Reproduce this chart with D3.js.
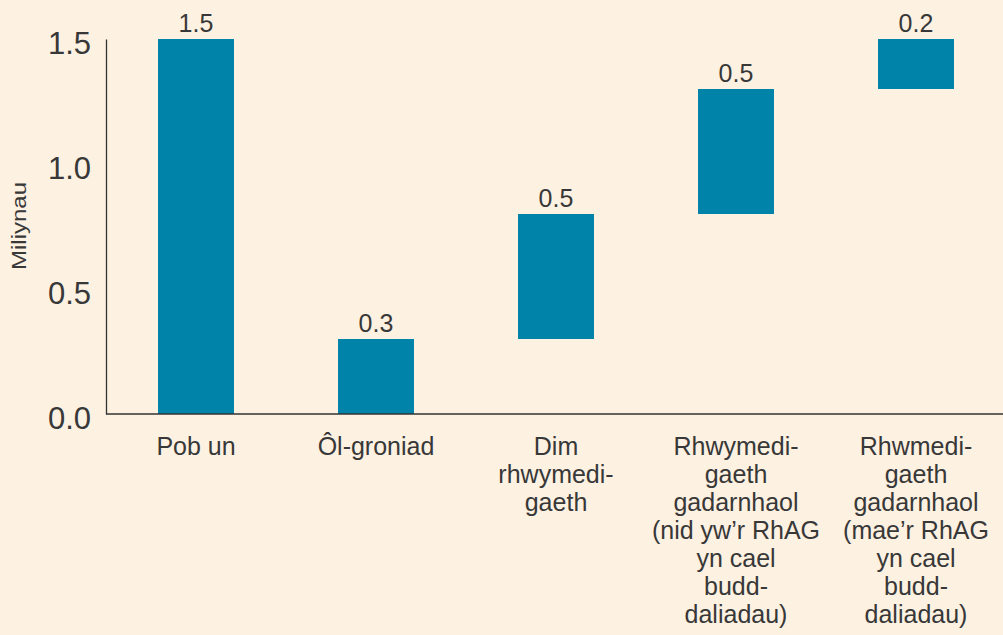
<!DOCTYPE html>
<html>
<head>
<meta charset="utf-8">
<script src="https://cdn.jsdelivr.net/npm/d3@7"></script>
<style>
  html, body { margin: 0; padding: 0; background: #fdf1e2; }
  svg { display: block; }
  text { font-family: "Liberation Sans", Arial, Helvetica, sans-serif; fill: #383838; }
</style>
</head>
<body>
<div id="chart"></div>
<script>
// data (millions)
var categories = ["Pob un", "Ôl-groniad", "Dim rhwymedi-gaeth", "Rhwymedi-gaeth gadarnhaol (nid)", "Rhwmedi-gaeth gadarnhaol (mae)"];
var categoryLines = [
  ["Pob un"],
  ["Ôl-groniad"],
  ["Dim", "rhwymedi-", "gaeth"],
  ["Rhwymedi-", "gaeth", "gadarnhaol", "(nid yw’r RhAG", "yn cael", "budd-", "daliadau)"],
  ["Rhwmedi-", "gaeth", "gadarnhaol", "(mae’r RhAG", "yn cael", "budd-", "daliadau)"]
];
var barStart = [0, 0, 0.3, 0.8, 1.3];
var barEnd = [1.5, 0.3, 0.8, 1.3, 1.5];
var valueLabels = ["1.5", "0.3", "0.5", "0.5", "0.2"];
var yTicks = [0, 0.5, 1.0, 1.5];

var width = 1003, height = 635;
var barColor = "#0083a9";

var svg = d3.select("#chart").append("svg")
  .attr("width", width)
  .attr("height", height);

var x = d3.scaleBand()
  .domain(categories)
  .range([106, 1006])
  .paddingInner(0.578)
  .paddingOuter(0.289);

var y = d3.scaleLinear()
  .domain([0, 1.5])
  .range([414, 39]);

var data = categories.map(function(c, i) {
  return {cat: c, lines: categoryLines[i], start: barStart[i], end: barEnd[i], label: valueLabels[i]};
});

// bars
svg.append("g")
  .selectAll("rect")
  .data(data)
  .join("rect")
  .attr("x", d => x(d.cat))
  .attr("width", x.bandwidth())
  .attr("y", d => y(d.end))
  .attr("height", d => y(d.start) - y(d.end))
  .attr("fill", barColor);

// value labels
svg.append("g")
  .selectAll("text")
  .data(data)
  .join("text")
  .attr("x", d => x(d.cat) + x.bandwidth() / 2)
  .attr("y", d => y(d.end) - 7)
  .attr("text-anchor", "middle")
  .style("font-size", "25px")
  .text(d => d.label);

// y axis
var yAxis = svg.append("g")
  .attr("transform", "translate(106,0)")
  .call(d3.axisLeft(y).tickValues(yTicks).tickFormat(d3.format(".1f")).tickSize(0).tickSizeOuter(0));
yAxis.select(".domain").attr("stroke", "#333").attr("stroke-width", 1.3);
yAxis.selectAll(".tick text")
  .attr("x", -15)
  .attr("dy", "0.46em")
  .style("font-size", "31px")
  .style("font-family", "\"Liberation Sans\", Arial, sans-serif")
  .attr("fill", "#383838");

// x axis line
svg.append("line")
  .attr("x1", 106).attr("x2", width)
  .attr("y1", y(0)).attr("y2", y(0))
  .attr("stroke", "#333")
  .attr("stroke-width", 1.3);

// category labels
var cat = svg.append("g")
  .selectAll("text")
  .data(data)
  .join("text")
  .attr("text-anchor", "middle")
  .style("font-size", "25px");
cat.selectAll("tspan")
  .data(d => d.lines.map(l => ({line: l, cx: x(d.cat) + x.bandwidth() / 2})))
  .join("tspan")
  .attr("x", d => d.cx)
  .attr("y", (d, i) => y(0) + 41 + i * 28)
  .text(d => d.line);

// y title
svg.append("text")
  .attr("transform", "translate(26," + 226 + ") rotate(-90)")
  .attr("text-anchor", "middle")
  .attr("textLength", 88)
  .attr("lengthAdjust", "spacingAndGlyphs")
  .style("font-size", "20px")
  .text("Miliynau");
</script>
</body>
</html>
